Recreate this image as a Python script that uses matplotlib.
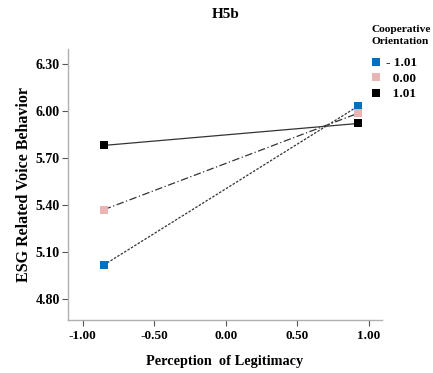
import matplotlib
matplotlib.use("Agg")
import matplotlib.pyplot as plt
from matplotlib.lines import Line2D

x_vals = [-0.853, 0.923]
series_labels = ["- 1.01", "0.00", "1.01"]
series_values = [[5.017, 6.03], [5.37, 5.985], [5.78, 5.92]]
marker_colors = ["#0070c0", "#e8b4b4", "#000000"]
line_styles = [(0, (2, 1.2)), (0, (6, 2, 1, 2)), "-"]
yticks = [4.80, 5.10, 5.40, 5.70, 6.00, 6.30]
xticks = [-1.00, -0.50, 0.00, 0.50, 1.00]

plt.rcParams['font.family'] = ['Liberation Serif', 'DejaVu Serif']
plt.rcParams['font.weight'] = 'bold'

fig = plt.figure(figsize=(4.33, 3.73), dpi=100)
ax = fig.add_axes([0.157, 0.142, 0.725, 0.727])

for vals, c, ls in zip(series_values, marker_colors, line_styles):
    ax.plot(x_vals, vals, color="#333333", linestyle=ls, linewidth=0.9, zorder=2)
    ax.plot(x_vals, vals, linestyle="none", marker="s", markersize=5.5,
            color=c, markeredgewidth=0, zorder=3)

ax.set_xlim(-1.103, 1.09)
ax.set_ylim(4.666, 6.396)
ax.set_xticks(xticks)
ax.set_yticks(yticks)
ax.set_xticklabels([f"{v:.2f}" for v in xticks], fontsize=9.5, fontweight='bold')
ax.set_yticklabels([f"{v:.2f}" for v in yticks], fontsize=10, fontweight='bold')
for s in ["top", "right"]:
    ax.spines[s].set_visible(False)
for s in ["left", "bottom"]:
    ax.spines[s].set_color("#b0b0b0")
    ax.spines[s].set_linewidth(1.0)
ax.tick_params(axis='both', color="#555555", length=4, width=0.8)
ax.tick_params(axis='y', pad=2)

ax.set_xlabel("Perception  of Legitimacy", fontsize=10.3, fontweight='bold', labelpad=9)
ax.set_ylabel("ESG Related Voice Behavior", fontsize=11.5, fontweight='bold', labelpad=2)
fig.text(226 / 433, 1 - 15 / 373, "H5b", ha="center", va="center", fontsize=11, fontweight='bold')

fig.text(372 / 433, 1 - 35.5 / 373, "Cooperative\nOrientation", ha="left", va="center",
         fontsize=8.2, fontweight='bold', linespacing=1.4)
pad_labels = [lab if lab.startswith("-") else "  " + lab for lab in series_labels]
handles = [Line2D([], [], linestyle="none", marker="s", markersize=5.5, color=c, markeredgewidth=0)
           for c in marker_colors]
leg = fig.legend(handles, pad_labels,
                 loc="upper left", bbox_to_anchor=(371 / 433, 1 - 57 / 373),
                 frameon=False, fontsize=9.5, handlelength=0.8,
                 handletextpad=0.3, labelspacing=0.25, borderpad=0, borderaxespad=0)

fig.savefig("out.png", dpi=100)
